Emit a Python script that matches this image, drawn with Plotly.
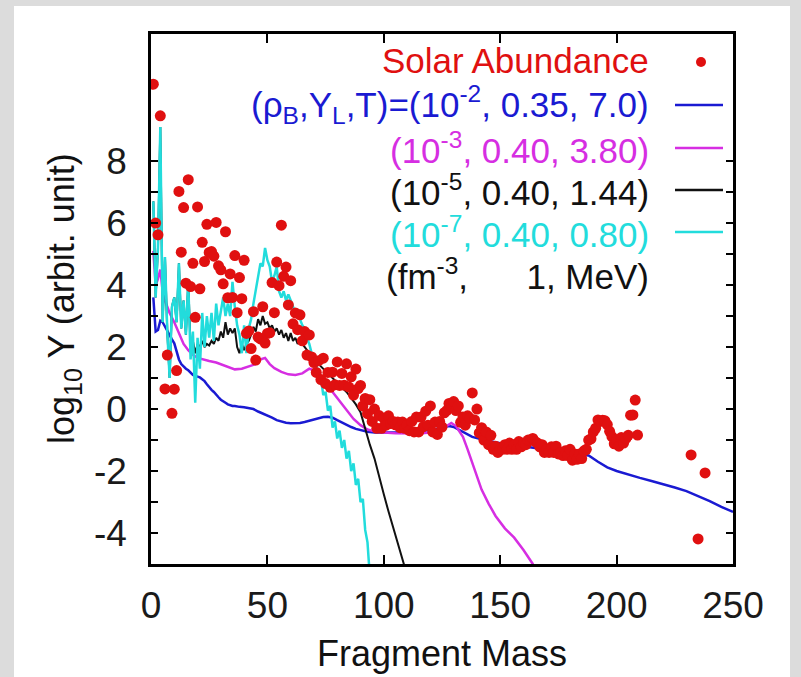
import plotly.graph_objects as go

# ---- solar abundance (log10, Si = 10^6), summed per mass number ----
solar_A = [1, 2, 3, 4, 6, 7, 9, 10, 11,
           12, 13, 14, 15, 16, 17, 18, 19, 20, 21, 22, 23, 24, 25, 26, 27, 28, 29, 30,
           31, 32, 33, 34, 35, 36, 37, 38, 39, 40, 41, 42, 43, 44, 45, 46, 47, 48, 49, 50,
           51, 52, 53, 54, 55, 56, 57, 58, 59, 60, 61, 62, 63, 64, 65, 66, 67, 68, 69, 70,
           71, 72, 73, 74, 75, 76, 77, 78, 79, 80, 81, 82, 83, 84, 85, 86, 87, 88, 89, 90,
           91, 92, 93, 94, 95, 96, 97, 98, 99, 100, 101, 102, 103, 104, 105, 106, 107, 108, 109, 110,
           111, 112, 113, 114, 115, 116, 117, 118, 119, 120, 121, 122, 123, 124, 125, 126, 127, 128, 129, 130,
           131, 132, 133, 134, 135, 136, 137, 138, 139, 140, 141, 142, 143, 144, 145, 146, 147, 148, 149, 150,
           151, 152, 153, 154, 155, 156, 157, 158, 159, 160, 161, 162, 163, 164, 165, 166, 167, 168, 169, 170,
           171, 172, 173, 174, 175, 176, 177, 178, 179, 180, 181, 182, 183, 184, 185, 186, 187, 188, 189, 190,
           191, 192, 193, 194, 195, 196, 197, 198, 199, 200, 201, 202, 203, 204, 205, 206, 207, 208, 209,
           232, 235, 238]
solar_Y = [10.48, 6.0, 5.62, 9.46, 0.65, 1.74, -0.14, 0.64, 1.24,
           7.02, 5.06, 6.50, 4.06, 7.40, 3.95, 4.70, 2.96, 6.52, 3.88, 5.38, 4.76, 5.96, 5.05, 5.08, 4.93, 6.02, 4.62, 4.49,
           4.04, 5.72, 3.59, 4.36, 3.60, 4.95, 3.11, 4.24, 3.56, 4.80, 2.44, 2.52, 1.95, 3.14, 1.58, 2.32, 2.26, 3.30, 2.13, 2.44,
           2.46, 4.08, 3.11, 4.74, 3.98, 5.93, 4.28, 4.58, 3.36, 4.14, 2.75, 3.10, 2.56, 3.04, 2.20, 2.50, 1.74, 2.39, 1.68, 1.50,
           1.18, 1.56, 0.95, 1.64, 0.82, 1.18, 0.70, 1.19, 0.78, 1.52, 0.76, 1.15, 0.77, 1.46, 0.71, 1.04, 0.45, 1.29, 0.66, 0.76,
           0.10, 0.34, -0.15, 0.30, -0.40, 0.00, -0.62, -0.21, -0.62, -0.30, -0.52, -0.22, -0.47, -0.40, -0.51, -0.42, -0.60, -0.42, -0.62, -0.52,
           -0.70, -0.40, -0.74, -0.26, -0.74, -0.26, -0.57, -0.07, -0.52, 0.10, -0.74, -0.42, -0.82, -0.40, -0.58, -0.12, -0.05, 0.18, 0.08, 0.24,
           -0.05, 0.10, -0.43, -0.26, -0.52, -0.22, -0.30, 0.52, -0.35, 0.00, -0.77, -0.60, -1.00, -0.74, -1.15, -0.85, -1.30, -1.20, -1.40, -1.30,
           -1.30, -1.15, -1.30, -1.10, -1.30, -1.15, -1.30, -1.05, -1.22, -1.10, -1.15, -1.00, -1.00, -0.95, -1.05, -1.10, -1.22, -1.15, -1.40, -1.30,
           -1.40, -1.22, -1.40, -1.20, -1.45, -1.40, -1.50, -1.35, -1.50, -1.30, -1.65, -1.45, -1.62, -1.45, -1.60, -1.35, -1.30, -1.00, -0.96, -0.74,
           -0.62, -0.35, -0.40, -0.36, -0.38, -0.50, -0.72, -0.89, -1.12, -1.00, -1.20, -0.92, -1.10, -0.95, -0.85, -0.20, -0.19, 0.29, -0.84,
           -1.48, -4.19, -2.06]

# ---- model curves ----
blue_A = [1, 2, 3, 4, 5, 6, 7, 8, 9, 10, 11, 12, 13, 14, 15, 16, 17, 18, 19, 20,
          21, 22, 23, 24, 25, 26, 27, 28, 29, 30, 31, 32, 33, 34, 35, 36, 37, 38, 40, 42,
          44, 46, 48, 50, 52, 54, 56, 58, 60, 62, 64, 66, 68, 70, 72, 74, 76, 78, 80, 82,
          84, 86, 88, 90, 93, 96, 100, 105, 110, 115, 120, 125, 128, 130, 133, 136, 138, 142, 146, 150,
          155, 160, 165, 170, 175, 180, 185, 188, 192, 196, 200, 205, 210, 215, 220, 225, 230, 235, 240, 245, 250]
blue_Y = [3.6, 2.5, 2.55, 2.85, 2.8, 2.65, 2.5, 2.38, 2.25, 2.12, 1.85, 1.6, 1.45, 1.37, 1.3, 1.25, 1.18, 1.1, 1.07, 1.04,
          1.02, 0.96, 0.9, 0.8, 0.7, 0.62, 0.55, 0.48, 0.38, 0.3, 0.26, 0.2, 0.15, 0.12, 0.1, 0.1, 0.08, 0.07, 0.06, 0.04,
          0.0, -0.08, -0.14, -0.2, -0.28, -0.36, -0.41, -0.44, -0.46, -0.46, -0.45, -0.42, -0.38, -0.33, -0.28, -0.26, -0.25, -0.28, -0.36, -0.44,
          -0.52, -0.58, -0.64, -0.68, -0.73, -0.76, -0.77, -0.76, -0.75, -0.72, -0.68, -0.6, -0.55, -0.58, -0.7, -0.82, -0.9, -0.98, -1.05, -1.1,
          -1.15, -1.2, -1.25, -1.3, -1.35, -1.4, -1.45, -1.5, -1.7, -1.88, -2.0, -2.12, -2.22, -2.32, -2.42, -2.53, -2.65, -2.8, -2.97, -3.16, -3.32]

magenta_A = [1, 2, 3, 4, 5, 6, 7, 8, 10, 12, 14, 16, 18, 20, 22, 25, 28, 30, 33, 36,
             39, 42, 45, 47, 49, 51, 53, 56, 59, 62, 65, 68, 70, 72, 75, 78, 81, 84, 87, 90,
             93, 96, 100, 105, 110, 115, 120, 124, 127, 129, 131, 134, 136, 138, 140, 142, 145, 148, 152, 156,
             160, 164, 166]
magenta_Y = [5.1, 4.0, 4.2, 4.5, 3.8, 3.5, 3.3, 3.1, 2.8, 2.45, 2.1, 1.9, 1.75, 1.65, 1.6, 1.55, 1.5, 1.45, 1.35, 1.28,
             1.3, 1.38, 1.45, 1.6, 1.65, 1.45, 1.32, 1.2, 1.12, 1.1, 1.15, 1.3, 1.25, 1.1, 0.85, 0.55, 0.25, -0.05, -0.32, -0.52,
             -0.66, -0.72, -0.76, -0.78, -0.79, -0.79, -0.76, -0.7, -0.55, -0.45, -0.55, -0.9, -1.3, -1.75, -2.2, -2.6, -3.05, -3.45, -3.85, -4.15,
             -4.55, -5.0, -5.3]

black_A = list(range(1, 66)) + [66, 68, 70, 72, 74, 76, 78, 80, 82, 84, 86, 88, 90, 92, 94, 96, 98, 100,
                                102, 104, 106, 108, 109]
black_Y = [6.7, 3.6, 5.2, 9.1, 2.8, 4.9, 2.5, 1.0, 3.3, 3.6, 2.8, 4.7, 2.6, 3.5, 2.4, 4.1,
           2.0, 2.2, 1.8, 2.1, 2.0, 2.2, 2.0, 2.1, 2.05, 2.2, 2.1, 2.3, 2.2, 2.5, 2.3, 2.8, 2.4, 2.6, 2.45, 2.6,
           2.0, 1.8, 2.1, 1.9, 2.1, 2.2, 2.4, 2.65, 2.5, 2.9, 2.7, 3.0, 2.75, 2.8, 2.6, 2.7, 2.5, 2.6, 2.4, 2.55,
           2.3, 2.45, 2.2, 2.45, 2.2, 2.3, 2.1, 2.2, 2.1,
           2.0, 1.8, 1.6, 1.45, 1.3, 1.15, 1.0, 0.85, 0.7, 0.55, 0.35, 0.15, -0.1, -0.65, -1.15, -1.6, -2.2, -2.75,
           -3.3, -3.8, -4.3, -4.8, -5.1]

cyan_A = list(range(1, 95))
cyan_Y = [6.7, 3.6, 5.2, 9.1, 2.8, 4.9, 2.5, 1.0, 3.3, 3.6, 2.8, 4.7, 2.6, 3.5, 2.4, 4.1, 1.6, 2.5, 0.2, 2.3,
          1.3, 3.1, 2.0, 3.0, 2.3, 3.1, 2.2, 3.4, 2.7, 3.1, 3.6, 3.0, 3.4, 3.0, 4.1, 3.3, 2.7, 2.4, 1.8, 2.7,
          1.8, 2.6, 2.9, 3.4, 3.8, 4.2, 4.7, 4.6, 5.2, 4.8, 4.6, 4.1, 4.3, 4.6, 3.8, 3.6, 3.8, 3.5, 3.7, 3.5,
          3.3, 3.1, 3.2, 2.9, 2.7, 2.6, 2.3, 2.1, 1.8, 1.5, 1.45, 1.0, 1.0, 0.45, 0.55, -0.05, 0.1, -0.6, -0.4, -0.95,
          -0.7, -1.25, -1.0, -1.6, -1.35, -2.0, -1.75, -2.45, -2.25, -3.0, -2.9, -3.9, -4.3, -5.4]

x_ticks = [0, 50, 100, 150, 200, 250]
y_ticks = list(range(-5, 9))
y_ticktext = [str(v) if v % 2 == 0 else "" for v in y_ticks]

RED = "#e01010"
BLUE = "#1a1ad2"
MAGENTA = "#d62ee2"
BLACK = "#111111"
CYAN = "#22dcdc"
FONT = "Liberation Sans, Arial, sans-serif"

fig = go.Figure()
fig.add_trace(go.Scatter(x=blue_A, y=blue_Y, mode="lines", line=dict(color=BLUE, width=2.5)))
fig.add_trace(go.Scatter(x=magenta_A, y=magenta_Y, mode="lines", line=dict(color=MAGENTA, width=2.5)))
fig.add_trace(go.Scatter(x=black_A, y=black_Y, mode="lines", line=dict(color=BLACK, width=2)))
fig.add_trace(go.Scatter(x=cyan_A, y=cyan_Y, mode="lines", line=dict(color=CYAN, width=2.5)))
fig.add_trace(go.Scatter(x=solar_A, y=solar_Y, mode="markers",
                         marker=dict(color=RED, size=11, line=dict(width=0))))

# plot frame geometry (pixels)
L, R, T, B = 151, 733, 34, 564
W, H = R - L, B - T


def px(x):
    return (x - L) / W


def py(y):
    return (B - y) / H


shapes = [dict(type="rect", xref="paper", yref="paper", x0=px(14), x1=px(790), y0=py(680), y1=py(6),
               fillcolor="white", line=dict(width=0), layer="below")]

# key: text right-aligned, sample to the right
key_rows = [
    ("Solar Abundance", RED, 61, "dot"),
    ("(ρ<sub>B</sub>,Y<sub>L</sub>,T)=(10<sup>-2</sup>, 0.35, 7.0)", BLUE, 105, BLUE),
    ("(10<sup>-3</sup>, 0.40, 3.80)", MAGENTA, 148, MAGENTA),
    ("(10<sup>-5</sup>, 0.40, 1.44)", BLACK, 190, BLACK),
    ("(10<sup>-7</sup>, 0.40, 0.80)", CYAN, 232, CYAN),
    ("(fm<sup>-3</sup>,\u00a0\u00a0\u00a0\u00a0\u00a0 1, MeV)", BLACK, 274, None),
]
annotations = []
for text, col, yy, sample in key_rows:
    annotations.append(dict(text=text, x=px(651), y=py(yy), xref="paper", yref="paper",
                            xanchor="right", yanchor="middle", showarrow=False,
                            font=dict(family=FONT, size=35, color=col)))
    if sample == "dot":
        shapes.append(dict(type="circle", xref="paper", yref="paper",
                           x0=px(696), x1=px(706), y0=py(67), y1=py(57),
                           fillcolor=RED, line=dict(width=0)))
    elif sample:
        shapes.append(dict(type="line", xref="paper", yref="paper",
                           x0=px(675), x1=px(723), y0=py(yy), y1=py(yy),
                           line=dict(color=sample, width=2.5)))

annotations.append(dict(text="Fragment Mass", x=0.5, y=py(653), xref="paper", yref="paper",
                        xanchor="center", yanchor="middle", showarrow=False,
                        font=dict(family=FONT, size=36, color="#111111")))
annotations.append(dict(text="log<sub>10</sub> Y (arbit. unit)", x=px(64), y=0.5, xref="paper", yref="paper",
                        xanchor="center", yanchor="middle", showarrow=False, textangle=-90,
                        font=dict(family=FONT, size=36, color="#111111")))

axis_common = dict(showline=True, linewidth=2.5, linecolor="black", mirror="ticks",
                   ticks="inside", tickwidth=2, tickcolor="black", showgrid=False, zeroline=False,
                   tickfont=dict(family=FONT, size=37, color="#1a1a1a"))

fig.update_layout(
    width=801, height=677,
    margin=dict(l=L, r=801 - R, t=T, b=677 - B),
    paper_bgcolor="#dcdcdc", plot_bgcolor="white",
    showlegend=False,
    shapes=shapes, annotations=annotations,
    xaxis=dict(range=[0, 250], tickvals=x_ticks, ticklen=9, ticklabelstandoff=7, **axis_common),
    yaxis=dict(range=[-5, 12.1], tickvals=y_ticks, ticktext=y_ticktext, ticklen=7,
               ticklabelstandoff=14, **axis_common),
)

fig.write_html("out.html")
